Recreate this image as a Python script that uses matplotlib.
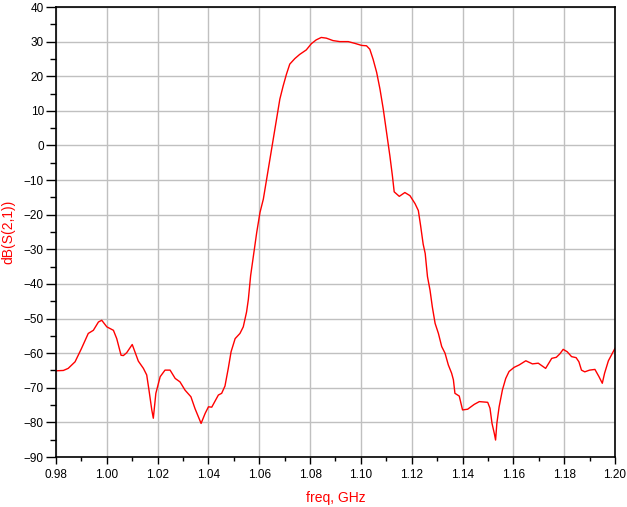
import numpy as np
import matplotlib
matplotlib.use('Agg')
import matplotlib.pyplot as plt
from matplotlib.ticker import MultipleLocator

# S21 trace (freq in GHz, dB)
freq = [0.9800, 0.9829, 0.9848, 0.9875, 0.9900, 0.9927, 0.9947, 0.9967, 0.9980,
        1.0000, 1.0026, 1.0039, 1.0056, 1.0065, 1.0078, 1.0100, 1.0124, 1.0144,
        1.0157, 1.0166, 1.0177, 1.0183, 1.0193, 1.0210, 1.0229, 1.0249, 1.0269,
        1.0288, 1.0308, 1.0331, 1.0347, 1.0371, 1.0387, 1.0400, 1.0413, 1.0439,
        1.0452, 1.0465, 1.0478, 1.0489, 1.0505, 1.0524, 1.0537, 1.0550, 1.0557,
        1.0566, 1.0577, 1.0590, 1.0603, 1.0616, 1.0629, 1.0642, 1.0655, 1.0668,
        1.0681, 1.0694, 1.0707, 1.0720, 1.0740, 1.0759, 1.0785, 1.0805, 1.0824,
        1.0844, 1.0864, 1.0890, 1.0917, 1.0950, 1.0976, 1.1003, 1.1022, 1.1035,
        1.1048, 1.1062, 1.1075, 1.1088, 1.1101, 1.1114, 1.1124, 1.1131, 1.1151,
        1.1173, 1.1193, 1.1213, 1.1226, 1.1235, 1.1245, 1.1253, 1.1262, 1.1272,
        1.1281, 1.1292, 1.1305, 1.1318, 1.1331, 1.1344, 1.1357, 1.1364, 1.1370,
        1.1387, 1.1400, 1.1420, 1.1446, 1.1466, 1.1499, 1.1508, 1.1516, 1.1525,
        1.1530, 1.1535, 1.1544, 1.1557, 1.1570, 1.1583, 1.1603, 1.1623, 1.1649,
        1.1675, 1.1698, 1.1727, 1.1751, 1.1769, 1.1783, 1.1796, 1.1812, 1.1829,
        1.1847, 1.1858, 1.1868, 1.1881, 1.1900, 1.1921, 1.1937, 1.1950, 1.1959,
        1.1974, 1.2000]
s21_db = [-65.1, -65.0, -64.4, -62.5, -58.7, -54.3, -53.4, -51.0, -50.5,
          -52.4, -53.4, -55.8, -60.6, -60.7, -59.9, -57.5, -62.3, -64.4,
          -66.3, -70.7, -76.4, -78.8, -71.6, -66.8, -64.9, -64.9, -67.3,
          -68.3, -70.7, -72.6, -76.0, -80.3, -77.4, -75.5, -75.6, -72.1,
          -71.6, -69.5, -64.4, -59.6, -55.8, -54.3, -52.4, -48.1, -44.5,
          -37.6, -31.8, -25.1, -19.3, -15.5, -9.7, -3.9, 1.8, 7.6,
          13.4, 17.2, 20.6, 23.5, 25.1, 26.3, 27.6, 29.4, 30.5,
          31.2, 31.0, 30.3, 30.0, 30.0, 29.5, 28.9, 28.8, 27.8,
          24.9, 21.1, 16.3, 10.5, 3.8, -3.0, -8.8, -13.4, -14.7,
          -13.6, -14.5, -16.8, -18.8, -23.2, -28.5, -31.2, -37.9, -41.8,
          -46.6, -51.4, -54.3, -58.1, -60.0, -63.4, -65.8, -67.7, -71.6,
          -72.4, -76.4, -76.2, -74.8, -74.0, -74.2, -75.9, -80.3, -83.2,
          -85.1, -80.3, -75.5, -70.6, -67.3, -65.3, -64.1, -63.4, -62.2,
          -63.1, -62.9, -64.4, -61.5, -61.2, -60.2, -58.9, -59.6, -61.0,
          -61.3, -62.5, -64.9, -65.4, -64.9, -64.7, -66.8, -68.7, -65.8,
          -62.2, -58.6]

x_ticks = np.arange(0.98, 1.2001, 0.02)
y_ticks = np.arange(-90, 41, 10)

plt.rcParams['font.family'] = ['Liberation Sans', 'DejaVu Sans']
fig = plt.figure(figsize=(6.27, 5.07), dpi=100)
ax = fig.add_axes([56 / 627, 1 - 457 / 507, (615 - 56) / 627, (457 - 7) / 507])

ax.plot(freq, s21_db, color='red', linewidth=1.0)

ax.set_xlim(0.98, 1.20)
ax.set_ylim(-90, 40)
ax.set_xticks(x_ticks)
ax.set_xticklabels([f'{v:.2f}' for v in x_ticks])
ax.set_yticks(y_ticks)
ax.xaxis.set_minor_locator(MultipleLocator(0.01))
ax.yaxis.set_minor_locator(MultipleLocator(5))
ax.tick_params(axis='y', which='major', direction='out', length=7.2, width=1, pad=1.5, labelsize=8.5)
ax.tick_params(axis='y', which='minor', direction='out', length=4.3, width=1)
ax.tick_params(axis='x', which='major', direction='out', length=5, width=1, pad=3.5, labelsize=8.5)
ax.tick_params(axis='x', which='minor', direction='out', length=3, width=1)
ax.grid(True, which='major', color='#c0c0c0', linewidth=1)
ax.set_axisbelow(True)
for sp in ax.spines.values():
    sp.set_color('black')
    sp.set_linewidth(1.2)

ax.set_xlabel('freq, GHz', color='red', fontsize=10, labelpad=7)
ax.set_ylabel('dB(S(2,1))', color='red', fontsize=10, labelpad=6)

fig.savefig('out.png', dpi=100)
